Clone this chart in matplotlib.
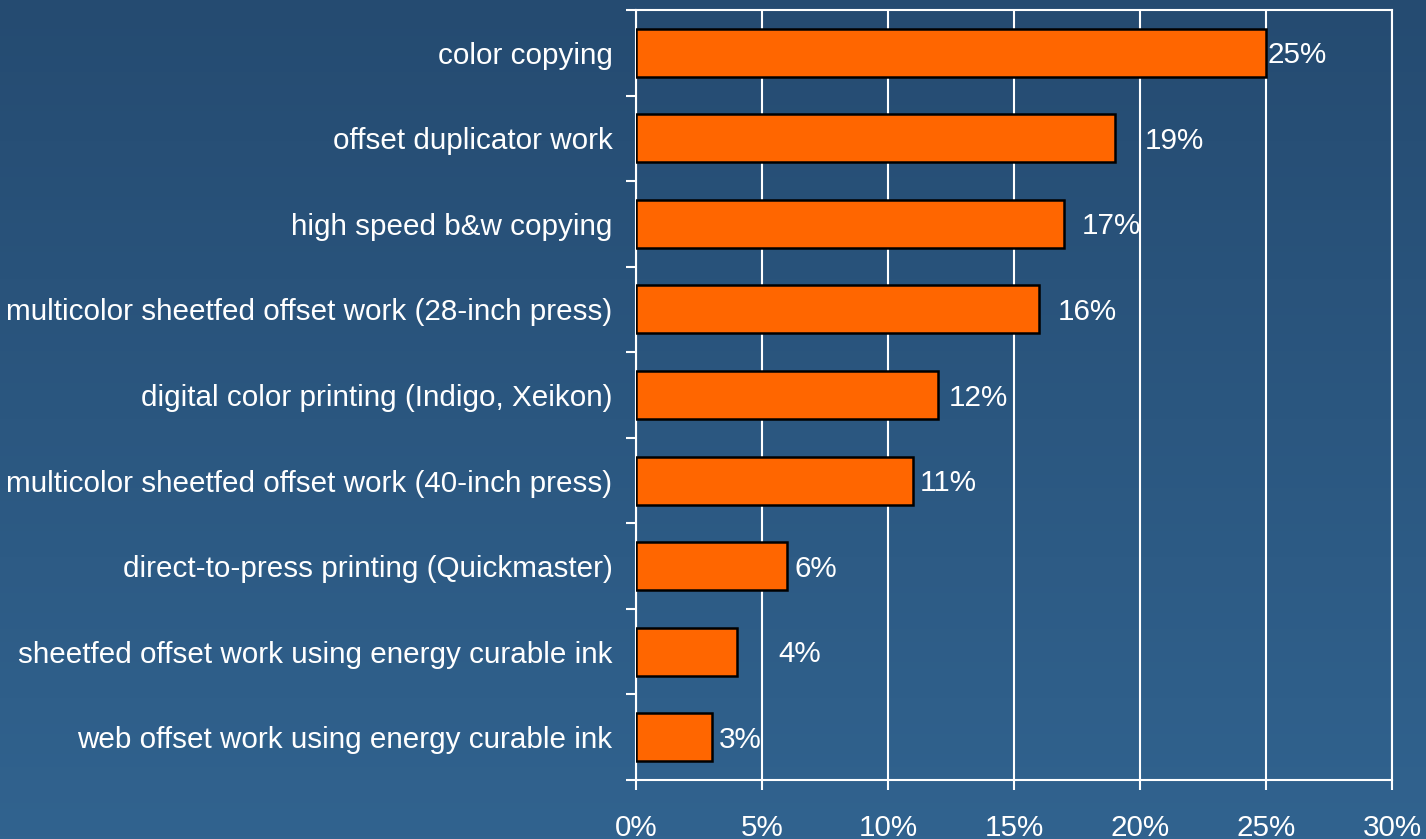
import numpy as np
import matplotlib
matplotlib.use("Agg")
import matplotlib.pyplot as plt
from matplotlib.colors import LinearSegmentedColormap

# Share of shops offering each service
services = [
    "color copying",
    "offset duplicator work",
    "high speed b&w copying",
    "multicolor sheetfed offset work (28-inch press)",
    "digital color printing (Indigo, Xeikon)",
    "multicolor sheetfed offset work (40-inch press)",
    "direct-to-press printing (Quickmaster)",
    "sheetfed offset work using energy curable ink",
    "web offset work using energy curable ink",
]
shares = [25, 19, 17, 16, 12, 11, 6, 4, 3]
# where each value label starts (in %), labels sit loosely off the bar ends
label_x = [25.05, 20.2, 17.7, 16.75, 12.4, 11.25, 6.3, 5.65, 3.3]
xticks = [0, 5, 10, 15, 20, 25, 30]

plt.rcParams['font.family'] = ['Liberation Sans', 'DejaVu Sans']
FS = 21.3
fig = plt.figure(figsize=(14.26, 8.39), dpi=100)

# vertical blue gradient behind everything
bg = fig.add_axes([0, 0, 1, 1], zorder=-10)
grad = np.linspace(0, 1, 256).reshape(-1, 1)
cmap = LinearSegmentedColormap.from_list("bg", ["#254b71", "#31638f"])
bg.imshow(grad, aspect="auto", cmap=cmap, extent=[0, 1, 0, 1], origin="upper")
bg.axis("off")

ax = fig.add_axes([636 / 1426, 1 - 780 / 839, (1392 - 636) / 1426, 770 / 839])
ax.patch.set_alpha(0)

y = np.arange(len(services))[::-1]
ax.barh(y, shares, height=0.56, color="#ff6600", edgecolor="black", linewidth=1.8, zorder=3)
for yi, lx, v in zip(y, label_x, shares):
    ax.text(lx, yi - 0.03, f"{v}%", va="center", ha="left", color="white", fontsize=FS, zorder=4)

ax.set_xlim(0, 30)
ax.set_ylim(-0.5, len(services) - 0.5)
ax.set_xticks(xticks)
ax.set_xticklabels([f"{t}%" for t in xticks])
ax.set_yticks(y)
ax.set_yticklabels(services)
ax.set_yticks(np.arange(-0.5, len(services)), minor=True)

ax.tick_params(axis="y", which="major", length=0, pad=17, labelsize=FS, labelcolor="white")
ax.tick_params(axis="y", which="minor", length=7.5, width=1.5, color="white")
ax.tick_params(axis="x", which="major", length=7.5, width=1.5, color="white",
               pad=17, labelsize=FS, labelcolor="white")

ax.grid(axis="x", color="white", linewidth=1.5, zorder=1)
ax.set_axisbelow(True)
for s in ax.spines.values():
    s.set_color("white")
    s.set_linewidth(1.5)

fig.savefig("out.png", dpi=100)
